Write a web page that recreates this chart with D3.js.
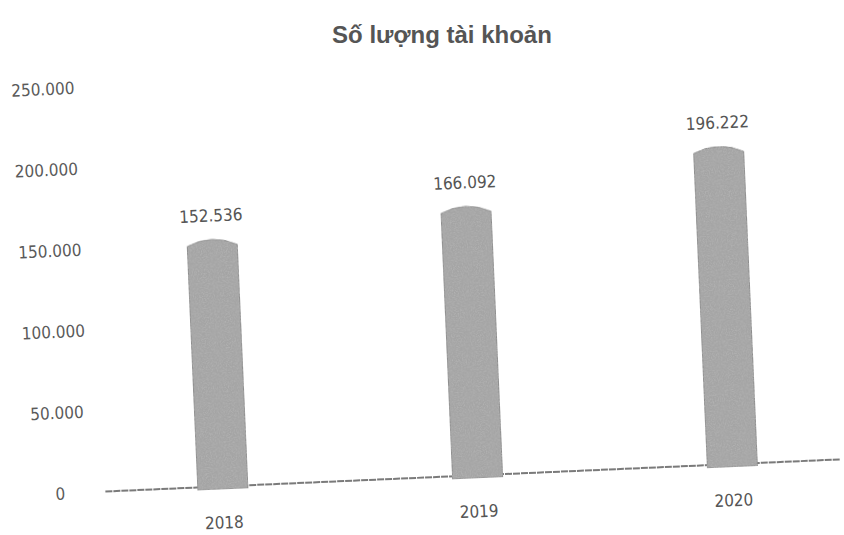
<!DOCTYPE html>
<html>
<head>
<meta charset="utf-8">
<script src="https://cdn.jsdelivr.net/npm/d3@7"></script>
<style>
  body { margin: 0; background: #fff; }
  text { font-family: "Liberation Sans Narrow", "DejaVu Sans Condensed", "Liberation Sans", sans-serif; }
</style>
</head>
<body>
<div class="chart"></div>
<script>
var svgWidth = 844;
var svgHeight = 535;

// chart data
var years = ["2018", "2019", "2020"];
var accounts = [152536, 166092, 196222];
var valueLabels = ["152.536", "166.092", "196.222"];
var yTicks = [0, 50000, 100000, 150000, 200000, 250000];
var yTickLabels = ["0", "50.000", "100.000", "150.000", "200.000", "250.000"];

var svg = d3.select(".chart")
  .append("svg")
  .attr("width", svgWidth)
  .attr("height", svgHeight);

// speckled scan texture for the bars
var defs = svg.append("defs");
var grain = defs.append("filter").attr("id", "grain")
  .attr("x", 0).attr("y", 0).attr("width", 1).attr("height", 1);
grain.append("feTurbulence")
  .attr("type", "fractalNoise")
  .attr("baseFrequency", 0.8)
  .attr("numOctaves", 2)
  .attr("seed", 3)
  .attr("result", "noise");
grain.append("feColorMatrix")
  .attr("in", "noise")
  .attr("type", "matrix")
  .attr("values", "0 0 0 0 0.45  0 0 0 0 0.45  0 0 0 0 0.45  0 0 0 -2.2 1.35")
  .attr("result", "dots");
grain.append("feComposite")
  .attr("in", "dots").attr("in2", "SourceGraphic").attr("operator", "in")
  .attr("result", "dotsIn");
grain.append("feMerge").selectAll("feMergeNode")
  .data(["SourceGraphic", "dotsIn"])
  .enter().append("feMergeNode").attr("in", d => d);

// title
svg.append("text")
  .attr("x", 442)
  .attr("y", 43)
  .attr("text-anchor", "middle")
  .style("font-family", "'Liberation Sans', Arial, sans-serif")
  .style("font-size", "24px")
  .style("font-weight", "bold")
  .attr("fill", "#555")
  .text("Số lượng tài khoản");

// the scan is slightly tilted, so the plot group is too
var chartGroup = svg.append("g")
  .attr("transform", "rotate(-2.5, 460, 475)");

var xScale = d3.scaleBand()
  .domain(years)
  .range([95, 860])
  .paddingInner(0.8)
  .paddingOuter(0.4);

var yScale = d3.scaleLinear()
  .domain([0, 250000])
  .range([476, 71]);

// y tick labels (no axis line)
var leftAxis = d3.axisLeft(yScale)
  .tickValues(yTicks)
  .tickFormat((d, i) => yTickLabels[i])
  .tickSize(0);

var yAxis = chartGroup.append("g")
  .attr("transform", "translate(92, 0)")
  .call(leftAxis);
yAxis.select(".domain").remove();
yAxis.selectAll("text")
  .attr("x", -32)
  .attr("dy", "0.35em")
  .attr("text-anchor", "middle")
  .attr("fill", "#5a5a5a")
  .style("font-size", "17px");

// baseline
chartGroup.append("line")
  .attr("x1", 105)
  .attr("x2", 840)
  .attr("y1", yScale(0))
  .attr("y2", yScale(0))
  .attr("stroke", "#7a7a7a")
  .attr("stroke-width", 2)
  .attr("stroke-dasharray", "7 1");

// bars with a domed top
var bw = 50;
var bars = chartGroup.selectAll(".bar")
  .data(accounts)
  .enter()
  .append("path")
  .attr("class", "bar")
  .attr("d", function(d, i) {
    var xc = xScale(years[i]) + xScale.bandwidth() / 2;
    var x0 = xc - bw / 2, x1 = xc + bw / 2;
    var yTop = yScale(d), y0 = yScale(0) + 3;
    return "M" + x0 + "," + y0 +
      "L" + x0 + "," + (yTop + 6) +
      "Q" + xc + "," + (yTop - 6) + " " + x1 + "," + (yTop + 6) +
      "L" + x1 + "," + y0 + "Z";
  })
  .attr("fill", "#a4a4a4")
  .attr("stroke", "#8c8c8c")
  .attr("stroke-width", 1)
  .attr("filter", "url(#grain)");

// value labels
chartGroup.selectAll(".val")
  .data(accounts)
  .enter()
  .append("text")
  .attr("class", "val")
  .attr("x", (d, i) => xScale(years[i]) + xScale.bandwidth() / 2)
  .attr("y", d => yScale(d) - 18)
  .attr("text-anchor", "middle")
  .attr("fill", "#555")
  .style("font-size", "17px")
  .text((d, i) => valueLabels[i]);

// x labels
var bottomAxis = d3.axisBottom(xScale).tickSize(0);
var xAxis = chartGroup.append("g")
  .attr("transform", "translate(0, " + yScale(0) + ")")
  .call(bottomAxis);
xAxis.select(".domain").remove();
xAxis.selectAll("text")
  .attr("y", 30)
  .attr("fill", "#555")
  .style("font-size", "17px");
</script>
</body>
</html>
